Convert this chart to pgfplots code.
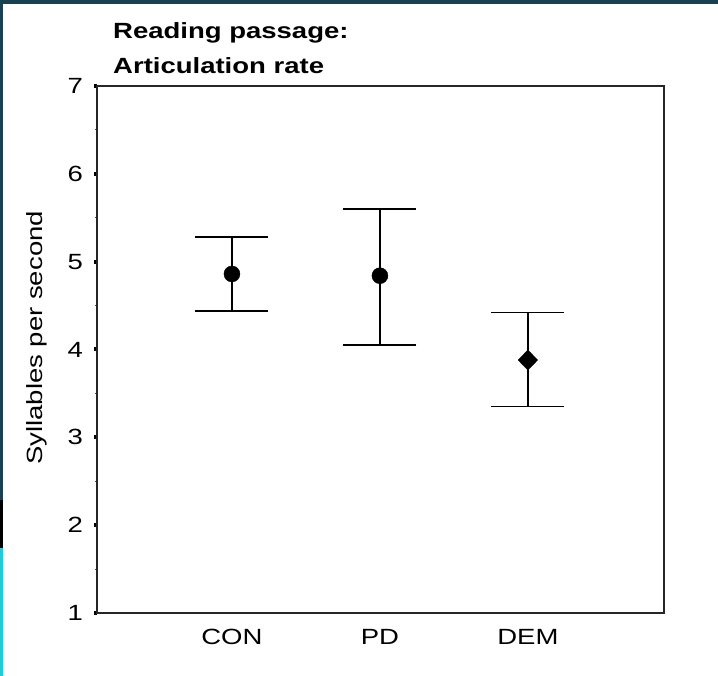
\documentclass[border=0pt]{standalone}
\usepackage{fontspec}
\setmainfont{Liberation Sans}[FakeStretch=1.25]
\usepackage{pgfplots}
\pgfplotsset{compat=1.18}
\definecolor{frameteal}{RGB}{24,64,78}
\definecolor{framecyan}{RGB}{40,200,215}
\begin{document}
\begin{tikzpicture}
\fill[white] (0,0) rectangle (718bp,676bp);
\fill[frameteal] (0,672bp) rectangle (718bp,676bp);
\fill[frameteal] (0,176bp) rectangle (3bp,676bp);
\fill[black] (0,128bp) rectangle (3bp,176bp);
\fill[framecyan] (0,0) rectangle (3bp,128bp);
\begin{axis}[
  at={(97bp,63bp)}, anchor=south west,
  scale only axis, width=567bp, height=527bp,
  xmin=0.088, xmax=3.92, ymin=1, ymax=7,
  xtick={1,2,3}, xticklabels={CON,PD,DEM},
  ytick={1,2,3,4,5,6,7},
  minor y tick num=1,
  axis line style={line width=1.8bp, draw=black!85},
  tick align=outside,
  major tick length=3bp, minor tick length=2bp,
  major x tick style={draw=none},
  major y tick style={line width=4bp, black},
  minor y tick style={line width=1bp, black!70},
  xtick pos=bottom, ytick pos=left,
  /pgf/number format/assume math mode=true,
  tick label style={font=\fontsize{22bp}{26bp}\selectfont, inner sep=0pt},
  yticklabel style={anchor=east, xshift=-11bp},
  xticklabel style={anchor=north, yshift=-13bp},
  ylabel={Syllables per second},
  ylabel style={font=\fontsize{22bp}{26bp}\selectfont, at={(axis description cs:-0.106,0.522)}, anchor=center},
  clip=false,
]
\addplot[black, only marks, mark=*, mark size=8bp,
  error bars/.cd, y dir=both, y explicit,
  error mark options={mark size=36.5bp, line width=1.5bp, rotate=90},
  error bar style={line width=1.5bp}]
  table[x=x, y=y, y error plus=ep, y error minus=em] {
x y ep em
1 4.86 0.42 0.42
2 4.84 0.76 0.79
};
\addplot[black, only marks, mark=diamond*, mark size=10bp, mark options={xscale=1.3},
  error bars/.cd, y dir=both, y explicit,
  error mark options={mark size=36.5bp, line width=1.5bp, rotate=90},
  error bar style={line width=1.5bp}]
  table[x=x, y=y, y error plus=ep, y error minus=em] {
x y ep em
3 3.88 0.54 0.53
};
\end{axis}
\node[anchor=base west, inner sep=0pt, font=\fontsize{22bp}{26bp}\selectfont\bfseries] at (113bp,637bp) {Reading passage:};
\node[anchor=base west, inner sep=0pt, font=\fontsize{22bp}{26bp}\selectfont\bfseries] at (113bp,602bp) {Articulation rate};
\end{tikzpicture}
\end{document}
